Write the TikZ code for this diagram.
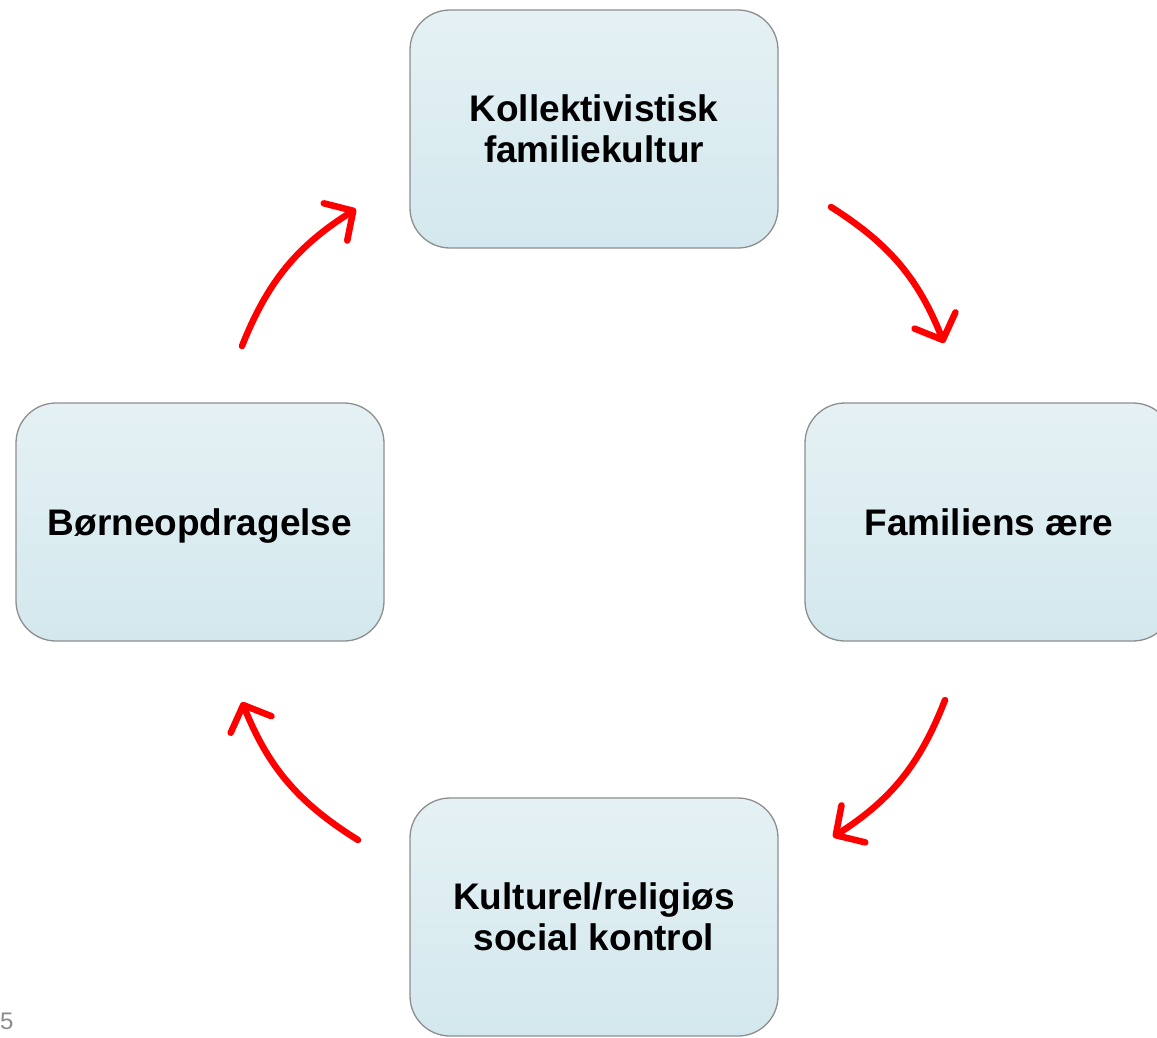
\documentclass[tikz,border=0pt]{standalone}
\usepackage{fontspec}
\setmainfont{Liberation Sans}
\usetikzlibrary{arrows.meta}
\definecolor{boxtop}{HTML}{E5F1F4}
\definecolor{boxbot}{HTML}{D3E8EE}
\definecolor{boxline}{HTML}{8E8E8E}
\definecolor{arrred}{HTML}{FF0000}
\tikzset{
  stage/.style={draw=boxline, line width=1.3pt, rounded corners=40pt,
    top color=boxtop, bottom color=boxbot,
    minimum width=368pt, minimum height=238pt, inner sep=0pt,
    align=center, font=\fontsize{37}{41}\selectfont\bfseries},
  oneline/.style={text height=27pt, text depth=0pt},
  cyclearrow/.style={draw=arrred, line width=6.5pt, line cap=round,
    -{Straight Barb[length=21pt, width=44pt, line cap=round, line join=round]}},
}
\begin{document}
\begin{tikzpicture}[x=1pt,y=-1pt]
\useasboundingbox (0,0) rectangle (1157,1037);
\begin{scope}
\clip (0,0) rectangle (1157,1037);
\node[stage] (top) at (594,129) {Kollektivistisk\\familiekultur};
\node[stage, oneline] (right) at (989,522) {Familiens ære};
\node[stage, oneline] (left) at (200,522) {Børneopdragelse};
\node[stage] (bottom) at (594,917) {Kulturel/religiøs\\social kontrol};
\end{scope}
\node[anchor=west, inner sep=0pt, text=black!45, font=\fontsize{24}{24}\selectfont] (page) at (0,1021) {5};
\coordinate (a1s) at (242,346);
\coordinate (a1e) at (356,209);
\coordinate (a2s) at (831,207);
\coordinate (a2e) at (944,343);
\coordinate (a3s) at (945,700);
\coordinate (a3e) at (833,837);
\coordinate (a4s) at (358,840);
\coordinate (a4e) at (242,702);
\draw[cyclearrow] (a1s) to[bend left=18] (a1e);
\draw[cyclearrow] (a2s) to[bend left=18] (a2e);
\draw[cyclearrow] (a3s) to[bend left=18] (a3e);
\draw[cyclearrow] (a4s) to[bend left=18] (a4e);
\end{tikzpicture}
\end{document}
